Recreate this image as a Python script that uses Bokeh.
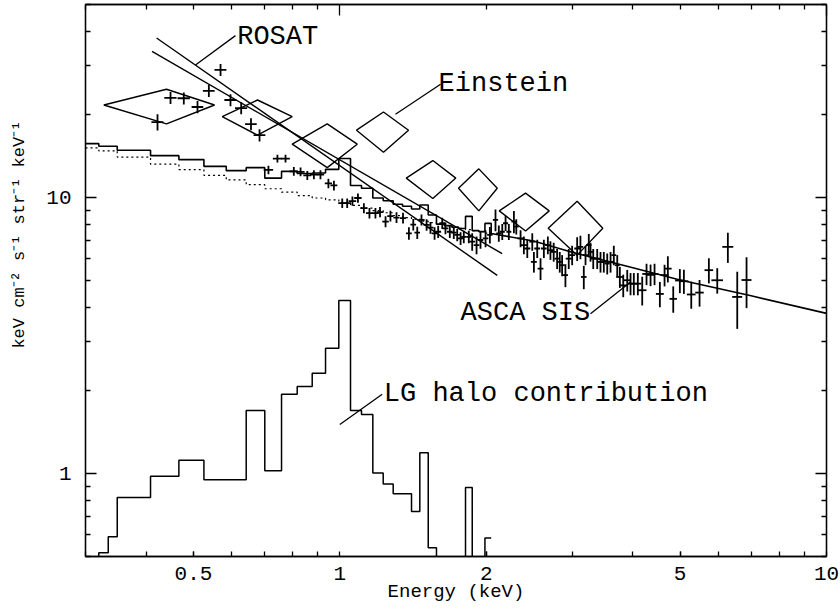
import math
from bokeh.plotting import figure
from bokeh.models import Range1d, FixedTicker, LogAxis, CustomJSTickFormatter
from bokeh.core.properties import value
from bokeh.embed import file_html
from bokeh.resources import INLINE

FONT = "Liberation Mono"

# ---------------- data ----------------
x_major_ticks = [0.5, 1, 2, 5, 10]
x_decades = [1, 10]
x_minor_ticks = [0.3, 0.4, 0.5, 0.6, 0.7, 0.8, 0.9, 2, 3, 4, 5, 6, 7, 8, 9]
y_major_ticks = [1, 10]
y_minor_ticks = [0.5, 0.6, 0.7, 0.8, 0.9, 2, 3, 4, 5, 6, 7, 8, 9, 20, 30, 40, 50]

# total model (solid histogram) and model without LG halo (dotted), keV
model_edges = [0.30, 0.3195, 0.3486, 0.4081, 0.4667, 0.5254, 0.584, 0.6418, 0.7008,
               0.7586, 0.817, 0.8771, 0.9342, 0.9948, 1.0514, 1.1075, 1.1685, 1.2273,
               1.2867, 1.345, 1.4033, 1.4595, 1.5188, 1.5792, 1.64, 1.70, 1.755,
               1.8118, 1.8703, 1.93, 1.9862, 2.0462]
model_total = [15.67, 15.32, 14.82, 14.17, 13.71, 12.96, 12.50, 12.82, 11.75, 12.43,
               12.21, 12.26, 12.64, 13.84, 11.04, 10.79, 9.95, 9.72, 9.44, 9.29,
               9.08, 9.39, 8.64, 8.0, 7.9, 7.8, 7.72, 8.54, 7.58, 7.52, 8.05]
model_dotted = [15.11, 14.75, 14.0, 13.2, 12.6, 12.02, 11.57, 11.12, 10.75, 10.45,
                10.15, 9.95, 9.8, 9.6, 9.35, 9.15, 8.95, 8.8, 8.6, 8.45,
                8.35, 8.2, 8.1, 8.0, 7.9, 7.8, 7.72, 7.65, 7.58, 7.52, 7.42]
smooth_E = [2.0462, 2.5, 3.0, 4.0, 5.0, 7.0, 10.0]
smooth_F = [7.40, 6.95, 6.33, 5.56, 5.02, 4.40, 3.80]

# LG halo contribution histogram
halo_edges = [0.3195, 0.3341, 0.3486, 0.4081, 0.4667, 0.5254, 0.6418, 0.7008, 0.7586,
              0.817, 0.8771, 0.9342, 0.9948, 1.0514, 1.1075, 1.1685, 1.2273, 1.2867,
              1.4033, 1.4595, 1.5188, 1.5792, 1.8118, 1.8703, 1.9862, 2.0462]
halo_vals = [0.516, 0.590, 0.818, 0.976, 1.116, 0.948, 1.692, 1.023, 1.935, 2.064,
             2.308, 2.839, 4.236, 1.692, 1.636, 1.003, 0.915, 0.844, 0.728, 1.187,
             0.538, 0, 0.890, 0, 0.583]

# ROSAT power-law fits
rosat_a_E = [0.420, 2.105]
rosat_a_F = [37.8, 5.22]
rosat_b_E = [0.411, 2.155]
rosat_b_F = [33.8, 6.26]

# Einstein error diamonds
ein_E_lo = [0.3272, 0.5730, 0.7979, 1.0817, 1.3687, 1.7529, 2.1254, 2.6797]
ein_E_c = [0.4401, 0.6771, 0.9417, 1.2290, 1.5522, 1.9296, 2.4072, 3.0725]
ein_E_hi = [0.5525, 0.7979, 1.0853, 1.3836, 1.7306, 2.1054, 2.6924, 3.4699]
ein_F_c = [21.62, 19.63, 15.59, 17.52, 11.75, 10.80, 8.937, 7.738]
ein_F_lo = [18.48, 16.81, 12.82, 14.58, 9.908, 8.937, 7.556, 6.178]
ein_F_hi = [24.66, 22.54, 18.48, 20.39, 13.60, 12.69, 10.36, 9.687]

# low-energy data points
low_E = [0.4218, 0.4486, 0.4777, 0.5097, 0.5378, 0.5684, 0.5958, 0.6267, 0.6565, 0.6836]
low_F = [18.75, 22.93, 22.87, 21.26, 24.31, 29.0, 22.54, 21.08, 18.44, 16.81]
low_dE = [0.012, 0.013, 0.014, 0.014, 0.015, 0.016, 0.017, 0.018, 0.018, 0.019]
low_dF = [1.26, 1.15, 1.15, 1.07, 1.22, 1.46, 1.13, 1.06, 0.93, 0.85]

# ASCA SIS data points
asca_E = [0.713, 0.744, 0.773, 0.804, 0.830, 0.857, 0.884, 0.912, 0.947, 0.972,
          1.011, 1.035, 1.061, 1.089, 1.120, 1.150, 1.183, 1.209, 1.241, 1.270,
          1.307, 1.348, 1.386, 1.415, 1.442,
          1.471, 1.507, 1.535, 1.565, 1.592, 1.623, 1.648, 1.682, 1.714, 1.742,
          1.770, 1.797, 1.840, 1.870, 1.909, 1.945, 1.992, 2.033, 2.088, 2.121,
          2.156, 2.190, 2.224, 2.278, 2.304,
          2.351, 2.388, 2.427, 2.485, 2.504, 2.544, 2.584, 2.625, 2.675, 2.708,
          2.750, 2.795, 2.830, 2.862, 2.907, 2.953, 3.001, 3.073, 3.121, 3.171,
          3.197, 3.247, 3.273, 3.316, 3.379, 3.432, 3.486, 3.543, 3.599, 3.655, 3.715,
          3.761, 3.822, 3.895, 3.956, 4.018, 4.095, 4.181, 4.267, 4.349, 4.432,
          4.545, 4.647, 4.720, 4.842, 4.996, 5.092, 5.273, 5.484, 5.731, 5.963,
          6.270, 6.555, 6.850]
asca_F = [12.58, 13.82, 13.82, 12.43, 12.38, 12.02, 12.09, 12.09, 11.24, 11.05,
          9.53, 9.53, 9.70, 9.95, 9.15, 8.77, 8.77, 8.85, 8.17, 8.56,
          8.45, 8.42, 7.41, 7.97, 7.45,
          8.29, 7.95, 7.77, 7.41, 7.51, 8.06, 7.73, 7.51, 7.45, 7.31,
          7.10, 7.20, 7.20, 6.91, 6.72, 7.01, 7.10, 7.31, 8.29, 7.41,
          7.51, 8.06, 7.51, 8.17, 7.84,
          7.10, 6.72, 6.53, 6.91, 5.84, 6.53, 5.52, 6.53, 6.72, 6.44,
          6.35, 6.00, 5.84, 5.68, 5.23, 6.00, 6.18, 6.53, 6.62, 5.15,
          6.18, 6.72, 6.35, 6.00, 6.00, 5.84, 5.84, 5.76, 5.84, 6.18, 5.68,
          5.15, 4.80, 5.01, 4.87, 4.87, 4.87, 4.61, 5.28, 5.24, 5.28,
          4.47, 5.23, 5.52, 4.29, 5.00, 4.97, 4.45, 4.52, 5.45, 5.01,
          6.62, 4.36, 5.02]
asca_dE = [0.016, 0.016, 0.016, 0.016, 0.016, 0.016, 0.016, 0.016, 0.016, 0.016,
           0.019, 0.019, 0.019, 0.019, 0.019, 0.019, 0.019, 0.019, 0.019, 0.019,
           0.019, 0.019, 0.019, 0.019, 0.019,
           0.022, 0.022, 0.022, 0.022, 0.022, 0.022, 0.022, 0.022, 0.022, 0.022,
           0.022, 0.022, 0.022, 0.026, 0.026, 0.026, 0.026, 0.026, 0.026, 0.026,
           0.026, 0.026, 0.026, 0.026, 0.026,
           0.035, 0.035, 0.035, 0.035, 0.035, 0.035, 0.035, 0.035, 0.035, 0.035,
           0.035, 0.035, 0.035, 0.035, 0.035, 0.042, 0.042, 0.042, 0.042, 0.042,
           0.042, 0.042, 0.042, 0.042, 0.042, 0.042, 0.042, 0.042, 0.042, 0.042, 0.042,
           0.065, 0.065, 0.065, 0.065, 0.065, 0.065, 0.085, 0.085, 0.085, 0.085,
           0.085, 0.085, 0.085, 0.085, 0.11, 0.11, 0.11, 0.11, 0.117, 0.164,
           0.163, 0.155, 0.162]
asca_dF = [0.45, 0.45, 0.45, 0.45, 0.45, 0.45, 0.45, 0.45, 0.45, 0.45,
           0.38, 0.38, 0.38, 0.38, 0.38, 0.38, 0.38, 0.38, 0.38, 0.38,
           0.38, 0.38, 0.38, 0.38, 0.38,
           0.38, 0.38, 0.38, 0.38, 0.38, 0.38, 0.38, 0.38, 0.38, 0.38,
           0.38, 0.38, 0.38, 0.5, 0.5, 0.5, 0.5, 0.5, 0.75, 0.5,
           0.5, 0.5, 0.5, 0.75, 0.5,
           0.5, 0.5, 0.5, 0.5, 0.5, 0.5, 0.5, 0.5, 0.5, 0.5,
           0.5, 0.5, 0.5, 0.5, 0.5, 0.5, 0.5, 0.65, 0.65, 0.5,
           0.5, 0.65, 0.5, 0.5, 0.5, 0.5, 0.5, 0.5, 0.5, 0.5, 0.5,
           0.45, 0.45, 0.45, 0.45, 0.45, 0.45, 0.55, 0.47, 0.47, 0.47,
           0.47, 0.47, 0.6, 0.47, 0.5, 0.5, 0.5, 0.5, 0.57, 0.53,
           0.83, 1.02, 1.05]

label_text = ["ROSAT", "Einstein", "ASCA SIS", "LG halo contribution"]
label_E = [0.615, 1.595, 1.7695, 1.2308]
label_F = [38.2, 25.8, 3.81, 1.935]
pointer_E0 = [0.5049, 1.3009, 3.2734, 0.9995]
pointer_F0 = [30.16, 20.00, 3.786, 1.504]
pointer_E1 = [0.6100, 1.6100, 3.9561, 1.2215]
pointer_F1 = [38.57, 25.72, 4.940, 1.935]

x_label = "Energy (keV)"
y_label = "keV cm\u207b\u00b2 s\u207b\u00b9 str\u207b\u00b9 keV\u207b\u00b9"

FLOOR = 0.01  # drawing level for empty histogram bins (off scale)


def step_xy(edges, vals, lead=None):
    xs, ys = [], []
    if lead is not None:
        xs.append(edges[0]); ys.append(lead)
    for i, v in enumerate(vals):
        v = v if v > 0 else FLOOR
        xs += [edges[i], edges[i + 1]]
        ys += [v, v]
    return xs, ys


# ---------------- figure ----------------
p = figure(width=840, height=605, x_axis_type="log", y_axis_type="log",
           x_range=Range1d(0.3, 10), y_range=Range1d(0.5, 50),
           output_backend="svg", toolbar_location=None,
           min_border_left=85, min_border_right=14, min_border_top=4, min_border_bottom=0)
p.grid.visible = False
p.outline_line_color = "black"
p.outline_line_width = 1.3
p.background_fill_color = "white"
p.border_fill_color = "white"

fmt = CustomJSTickFormatter(code="return tick.toString()")
blank = CustomJSTickFormatter(code="return ''")

xa = p.xaxis[0]
xa.ticker = FixedTicker(ticks=x_major_ticks, minor_ticks=x_minor_ticks)
xa.formatter = fmt
ya = p.yaxis[0]
ya.ticker = FixedTicker(ticks=y_major_ticks, minor_ticks=y_minor_ticks)
ya.formatter = fmt

top = LogAxis(ticker=FixedTicker(ticks=x_decades, minor_ticks=x_minor_ticks), formatter=blank)
right = LogAxis(ticker=FixedTicker(ticks=y_major_ticks, minor_ticks=y_minor_ticks), formatter=blank)
p.add_layout(top, "above")
p.add_layout(right, "right")

for ax in (xa, ya, top, right):
    ax.axis_line_color = "black"
    ax.axis_line_width = 1.3
    ax.major_tick_line_color = "black"
    ax.minor_tick_line_color = "black"
    ax.major_tick_line_width = 1.3
    ax.minor_tick_line_width = 1.3
    ax.major_tick_out = 0
    ax.minor_tick_out = 0
    ax.major_tick_in = 11
    ax.minor_tick_in = 5
    ax.major_label_text_font = FONT
    ax.major_label_text_font_size = "21px"
    ax.major_label_text_color = "black"
for ax in (top, right):
    ax.major_label_text_font_size = "0px"
    ax.major_label_standoff = 0
xa.major_tick_in = 5
xa.major_label_standoff = 10
ya.major_label_standoff = 14

xa.axis_label = x_label
xa.axis_label_text_font = FONT
xa.axis_label_text_font_size = "19px"
xa.axis_label_text_font_style = "normal"
xa.axis_label_text_color = "black"
xa.axis_label_standoff = -2

ya.axis_label = "\u00a0" * 9 + y_label
ya.axis_label_text_font = FONT
ya.axis_label_text_font_size = "17px"
ya.axis_label_text_font_style = "normal"
ya.axis_label_text_color = "black"
ya.axis_label_standoff = 14

# models
tx, ty = step_xy(model_edges, model_total)
tx += smooth_E
ty += smooth_F
p.line(tx, ty, line_color="black", line_width=1.6)
dx, dy = step_xy(model_edges, model_dotted)
p.line(dx, dy, line_color="black", line_width=1.2, line_dash="2 3")
hx, hy = step_xy(halo_edges, halo_vals, lead=FLOOR)
p.line(hx, hy, line_color="black", line_width=1.5)

# ROSAT lines
p.line(rosat_a_E, rosat_a_F, line_color="black", line_width=1.4)
p.line(rosat_b_E, rosat_b_F, line_color="black", line_width=1.4)

# Einstein diamonds
dxs = [[lo, c, hi, c] for lo, c, hi in zip(ein_E_lo, ein_E_c, ein_E_hi)]
dys = [[fc, fh, fc, fl] for fc, fl, fh in zip(ein_F_c, ein_F_lo, ein_F_hi)]
p.patches(dxs, dys, fill_color=None, line_color="black", line_width=1.4)

# data crosses
allE = low_E + asca_E
allF = low_F + asca_F
alldE = low_dE + asca_dE
alldF = low_dF + asca_dF
p.segment(x0=[e - d for e, d in zip(allE, alldE)], x1=[e + d for e, d in zip(allE, alldE)],
          y0=allF, y1=allF, line_color="black", line_width=1.8)
p.segment(x0=allE, x1=allE, y0=[f - d for f, d in zip(allF, alldF)],
          y1=[f + d for f, d in zip(allF, alldF)], line_color="black", line_width=1.8)

# annotations
p.segment(x0=pointer_E0, y0=pointer_F0, x1=pointer_E1, y1=pointer_F1,
          line_color="black", line_width=1.3)
p.text(x=label_E, y=label_F, text=label_text, text_font=value(FONT),
       text_font_size="27px", text_align="left", text_baseline="alphabetic",
       text_color="black")

open("out.html", "w").write(file_html(p, INLINE))
